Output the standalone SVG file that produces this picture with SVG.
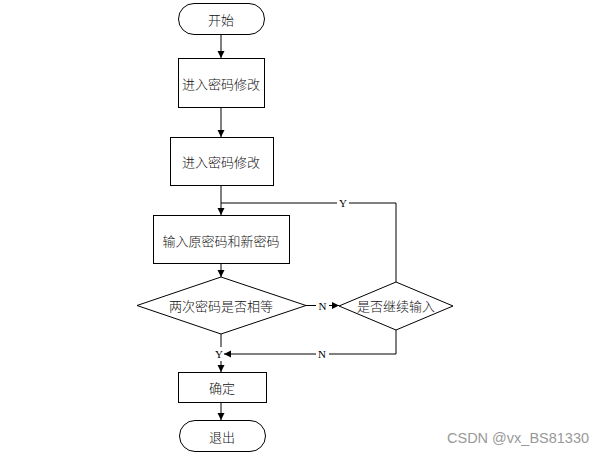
<svg xmlns="http://www.w3.org/2000/svg" width="613" height="455" viewBox="0 0 613 455">
<defs>
<marker id="ah" markerWidth="8" markerHeight="8" refX="7" refY="4" orient="auto" markerUnits="userSpaceOnUse">
<path d="M0,0.5 L7,4 L0,7.5 Z" fill="#000"/>
</marker>
<style>
.s{fill:#fff;stroke:#000;stroke-width:1}
.t{font-family:"Noto Sans CJK SC","Liberation Serif",serif;font-size:13px;font-weight:300;fill:#111;text-anchor:middle;dominant-baseline:central}
.l{font-family:"Liberation Serif",serif;font-size:11px;fill:#000;text-anchor:middle;dominant-baseline:central}
.c{fill:none;stroke:#000;stroke-width:1}
.w{font-family:"Liberation Sans",sans-serif;font-size:14.5px;fill:#999}
</style>
</defs>
<rect width="613" height="455" fill="#fff"/>
<g id="connectors">
<line class="c" x1="221" y1="34" x2="221" y2="58" marker-end="url(#ah)"/>
<line class="c" x1="221" y1="107" x2="221" y2="137" marker-end="url(#ah)"/>
<line class="c" x1="221" y1="186" x2="221" y2="215" marker-end="url(#ah)"/>
<line class="c" x1="221" y1="264" x2="221" y2="277" marker-end="url(#ah)"/>
<line class="c" x1="306" y1="305.5" x2="339" y2="305.5" marker-end="url(#ah)"/>
<polyline class="c" points="396,282 396,203 221,203"/>
<polyline class="c" points="396,330 396,354 224,354" marker-end="url(#ah)"/>
<line class="c" x1="221" y1="334" x2="221" y2="347"/>
<line class="c" x1="221" y1="361" x2="221" y2="372" marker-end="url(#ah)"/>
<line class="c" x1="221" y1="402" x2="221" y2="420" marker-end="url(#ah)"/>
<rect x="316" y="299" width="13" height="13" fill="#fff"/>
<text class="l" x="322.5" y="305.5">N</text>
<rect x="337" y="197" width="12" height="12" fill="#fff"/>
<text class="l" x="343" y="203">Y</text>
<rect x="316" y="348" width="13" height="12" fill="#fff"/>
<text class="l" x="322" y="354">N</text>
<text class="l" x="219" y="354">Y</text>
</g>
<g id="start">
<rect class="s" x="178.5" y="3.5" width="86" height="31" rx="15.5" ry="15.5"/>
<text class="t" x="221" y="19">开始</text>
</g>
<g id="enter1">
<rect class="s" x="178.5" y="58.5" width="86" height="49"/>
<text class="t" x="221" y="83">进入密码修改</text>
</g>
<g id="enter2">
<rect class="s" x="170.5" y="137.5" width="103" height="48"/>
<text class="t" x="221" y="161">进入密码修改</text>
</g>
<g id="input">
<rect class="s" x="153.5" y="215.5" width="136" height="48"/>
<text class="t" x="221" y="240">输入原密码和新密码</text>
</g>
<g id="compare">
<polygon class="s" points="221,277 306,305.5 221,334 137,305.5"/>
<text class="t" x="221" y="305">两次密码是否相等</text>
</g>
<g id="continue">
<polygon class="s" points="396,282 453,306 396,330 339,306"/>
<text class="t" x="396" y="305">是否继续输入</text>
</g>
<g id="confirm">
<rect class="s" x="178.5" y="372.5" width="88" height="30"/>
<text class="t" x="222" y="387">确定</text>
</g>
<g id="exit">
<rect class="s" x="179.5" y="420.5" width="86" height="31" rx="15.5" ry="15.5"/>
<text class="t" x="222" y="436">退出</text>
</g>
<text class="w" x="447" y="443">CSDN @vx_BS81330</text>
</svg>
